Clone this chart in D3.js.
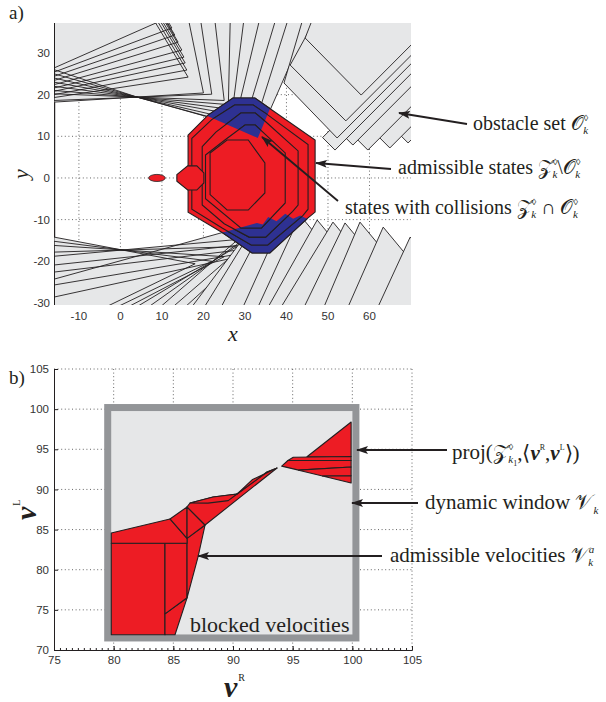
<!DOCTYPE html>
<html>
<head>
<meta charset="utf-8">
<script src="https://cdn.jsdelivr.net/npm/d3@7"></script>
<style>body{margin:0;background:#fff}</style>
</head>
<body>
<script>
// ---------- a) state space (x, y) ----------
const topXTicks = [-10, 0, 10, 20, 30, 40, 50, 60];
const topYTicks = [-30, -20, -10, 0, 10, 20, 30];

// left border wall of the free corridor
const wallLeft = [[[-20, 18.2], [-15.85, 18.2], [-15.85, -14.2], [-20, -14.2]]];

// upper left obstacles: chevrons in the corner
const obstUpperA = [
  [[-16, 26.4], [11.5, 38.5], [10.6, 40], [-16, 40]],
  [[-16, 25.4], [12.4, 36.0], [10.0, 40], [-16, 40]],
  [[-16, 24.4], [13.1, 34.3], [9.7, 40], [-16, 40]],
  [[-16, 23.4], [13.9, 32.6], [9.5, 40], [-16, 40]],
  [[-16, 22.4], [14.8, 30.7], [9.2, 40], [-16, 40]],
  [[-16, 21.6], [15.3, 29.0], [8.7, 40], [-16, 40]],
  [[-16, 20.8], [15.6, 27.6], [8.2, 40], [-16, 40]],
  [[-16, 20.0], [16.0, 25.9], [7.5, 40], [-16, 40]],
  [[-16, 19.3], [16.3, 24.2], [6.8, 40], [-16, 40]]
];
// upper left obstacles: fan converging on the robot
const obstUpperB = [
  [[-16, 26.0], [4, 19.4], [21.6, 14.6], [33.1, 9.6], [46.5, 40], [-16, 40]],
  [[-16, 25.0], [32, 11.6], [41, 40], [-16, 40]],
  [[-16, 24.0], [30, 13.4], [38, 40], [-16, 40]],
  [[-16, 23.0], [28, 15.1], [34, 40], [-16, 40]],
  [[-16, 22.0], [27, 16.4], [30, 40], [-16, 40]],
  [[-16, 21.0], [26, 17.6], [26.5, 40], [-16, 40]],
  [[-16, 20.2], [25, 18.6], [22.5, 40], [-16, 40]],
  [[-16, 18.6], [22, 20.1], [19, 40], [-16, 40]],
  [[-16, 18.2], [20, 20.4], [16, 40], [-16, 40]]
];
// upper right obstacles (drawn in this order)
const obstUpperRight = [
  [[66.3, 11.4], [69.3, 8.4], [109.3, 48.4], [106.3, 51.4]],
  [[61.9, 10.2], [64.9, 7.2], [104.9, 47.2], [101.9, 50.2]],
  [[56.6, 9.7], [59.6, 6.7], [99.6, 46.7], [96.6, 49.7]],
  [[53.0, 10.9], [56.0, 7.9], [96.0, 47.9], [93.0, 50.9]],
  [[48.7, 9.7], [51.7, 6.7], [91.7, 46.7], [88.7, 49.7]],
  [[39.4, 22.8], [52.2, 9.6], [92.2, 49.6], [44.5, 40]],
  [[40.9, 27.1], [54.3, 13.7], [94.3, 53.7], [48, 40]],
  [[44.5, 33.6], [58.0, 19.9], [98.0, 59.9], [47, 40]]
];
// lower left obstacles: fan
const obstLowerFan = [
  [[-16, -14.2], [18, -20.6], [-4.6, -31.5], [-16, -31.5]],
  [[-16, -15.2], [22, -20.0], [-1.9, -31.5], [-16, -31.5]],
  [[-16, -16.2], [25, -18.9], [0.8, -31.5], [-16, -31.5]],
  [[-16, -17.8], [28, -16.5], [3, -31.5], [-16, -31.5]],
  [[-16, -18.8], [30, -14.6], [6, -31.5], [-16, -31.5]],
  [[-16, -24.3], [32.9, -10.8], [9, -31.5], [-16, -31.5]],
  [[-16, -20.9], [30, -16], [12, -31.5], [-16, -31.5]],
  [[-16, -22.6], [31, -17], [15, -31.5], [-16, -31.5]],
  [[-16, -25.7], [33, -17.5], [18, -31.5], [-16, -31.5]],
  [[-16, -28.6], [35, -17.5], [21, -31.5], [-16, -31.5]]
];
// lower right obstacles: saw teeth (drawn left to right)
const obstLowerTeeth = [
  [[16.8, -31.5], [30.0, -14.0], [40.0, -26.0], [30.8, -31.5]],
  [[19.9, -31.5], [32.0, -12.0], [42.0, -24.0], [33.9, -31.5]],
  [[24.0, -31.5], [35.6, -9.4], [45.6, -21.4], [38.0, -31.5]],
  [[29.3, -31.5], [39.7, -8.6], [49.7, -20.6], [43.3, -31.5]],
  [[32.9, -31.5], [43.3, -9.0], [53.3, -21.0], [46.9, -31.5]],
  [[35.3, -31.5], [47.4, -10.1], [57.4, -22.1], [49.3, -31.5]],
  [[38.4, -31.5], [51.2, -10.6], [61.2, -22.6], [52.4, -31.5]],
  [[44.0, -31.5], [54.1, -10.8], [64.1, -22.8], [58.0, -31.5]],
  [[48.8, -31.5], [57.7, -10.6], [67.7, -22.6], [62.8, -31.5]],
  [[54.6, -31.5], [63.3, -11.8], [73.3, -23.8], [68.6, -31.5]],
  [[61.8, -31.5], [69.8, -14.2], [79.8, -26.2], [75.8, -31.5]]
];
// reachable set contours (outer to inner)
const reachContours = [
  [[16.3, 10.3], [21.1, 15.1], [27.1, 19.2], [32.4, 19.2], [36.5, 16.3], [46.9, 9.1], [46.9, -8.2], [45.2, -9.6], [36.0, -18.0], [31.7, -18.0], [24.7, -13.2], [16.3, -8.2]],
  [[17.2, 9.5], [22.0, 14.0], [27.5, 17.5], [32.0, 17.5], [35.0, 15.5], [45.2, 8.0], [45.2, -7.5], [44.0, -9.0], [35.5, -16.1], [31.5, -16.1], [24.5, -12.0], [17.2, -7.5]],
  [[19.7, 7.5], [23.0, 11.0], [29.0, 15.6], [32.5, 15.6], [35.0, 13.5], [42.8, 6.5], [42.8, -6.5], [41.5, -8.0], [35.0, -14.2], [31.0, -14.2], [25.0, -11.0], [19.7, -6.5]],
  [[20.5, 5.5], [25.0, 9.0], [30.0, 12.7], [32.5, 12.7], [39.7, 6.0], [39.7, -6.0], [34.0, -12.0], [29.0, -12.0], [20.5, -5.0]],
  [[21.6, 6.0], [25.7, 9.1], [30.8, 9.1], [34.8, 3.6], [34.8, -3.6], [30.8, -7.7], [25.7, -7.7], [21.6, -4.0]]
];
const firstStep = [[13.6, 0.8], [16.2, 2.9], [18.4, 2.9], [20.1, 1.2], [20.1, -1.2], [18.4, -2.9], [16.2, -2.9], [13.6, -0.8]];
const startState = {x: 8.8, y: 0, rx: 2.0, ry: 0.85};
// collision areas (obstacle hull next to the robot)
const collisionHull = [
  [[-16, 31], [33.1, 9.6], [36.8, 18.5], [43.6, 40], [-16, 40]],
  [[-16, -24.3], [32.9, -10.8], [34.3, -11.2], [35.6, -9.4], [37.6, -10.4], [39.7, -8.6], [41.6, -9.8], [43.3, -9.0], [45.2, -9.9], [47.4, -10.1], [70, -40], [-16, -40]]
];

// ---------- b) velocity space (vR, vL) ----------
const botXTicks = [75, 80, 85, 90, 95, 100, 105];
const botYTicks = [70, 75, 80, 85, 90, 95, 100, 105];
const dynWindow = [[79.5, 71.5], [100.3, 100.2]];
const projPieces = [
  [[79.8, 71.9], [84.3, 71.9], [84.3, 83.3], [79.8, 83.3]],
  [[84.3, 71.9], [85.14, 71.9], [86.15, 76.5], [84.3, 74.5]],
  [[84.3, 74.5], [86.15, 76.5], [86.15, 83.3], [84.3, 83.3]],
  [[86.15, 76.5], [87.07, 81.59], [87.66, 85.57], [86.15, 83.9]],
  [[79.8, 83.3], [86.15, 83.3], [86.15, 83.9], [84.72, 86.32], [79.8, 84.58]],
  [[84.72, 86.32], [86.15, 83.9], [86.15, 87.82]],
  [[86.15, 83.9], [87.66, 85.57], [86.15, 87.82]],
  [[86.15, 87.82], [87.66, 85.57], [93.69, 92.67], [92.85, 92.17], [90.34, 89.43], [88.33, 89.06], [86.4, 88.31]],
  [[86.4, 88.31], [88.33, 89.06], [90.34, 89.43], [89.6, 88.6], [87.9, 88.3]],
  [[90.34, 89.43], [92.85, 92.17], [93.69, 92.67], [91.6, 91.2], [90.6, 89.8]],
  [[96.2, 94.07], [99.9, 98.4], [99.9, 94.1]],
  [[95.05, 94.0], [99.9, 94.1], [99.9, 93.6], [94.6, 93.6]],
  [[94.08, 92.9], [94.6, 93.6], [99.9, 93.6], [99.9, 92.8], [95.5, 92.4]],
  [[95.5, 92.4], [99.9, 92.8], [99.9, 91.7], [97.5, 91.67]],
  [[97.5, 91.67], [99.9, 91.7], [99.9, 90.8]]
];

// ---------- drawing ----------
const INK = "#231f20", GRAY = "#e6e7e8", RED = "#ed1c24", BLUE = "#2e3192";
const SERIF = "'Liberation Serif','Times New Roman',serif";
const SANS = "'Liberation Sans',Arial,sans-serif";
const MATH = "'DejaVu Serif','DejaVu Sans',serif";

const svg = d3.select("body").append("svg").attr("width", 606).attr("height", 702);
const defs = svg.append("defs");

function pathOf(sx, sy) {
  return pts => "M" + pts.map(p => sx(p[0]).toFixed(2) + "," + sy(p[1]).toFixed(2)).join("L") + "Z";
}

const marker = defs.append("marker").attr("id", "head").attr("viewBox", "0 0 12 8")
  .attr("refX", 11).attr("refY", 4).attr("markerWidth", 12).attr("markerHeight", 8)
  .attr("markerUnits", "userSpaceOnUse").attr("orient", "auto");
marker.append("path").attr("d", "M0,0L12,4L0,8L2.5,4Z").attr("fill", INK);

function arrow(g, x1, y1, x2, y2) {
  g.append("line").attr("x1", x1).attr("y1", y1).attr("x2", x2).attr("y2", y2)
    .attr("stroke", INK).attr("stroke-width", 1.8).attr("marker-end", "url(#head)");
}

function richText(g, x, y, size, parts) {
  const t = g.append("text").attr("x", x).attr("y", y).attr("font-family", SERIF)
    .attr("font-size", size).attr("fill", INK);
  parts.forEach(p => {
    const s = t.append("tspan").text(p.t);
    if (p.i) s.attr("font-style", "italic");
    if (p.b) s.attr("font-weight", "bold");
    if (p.ff) s.attr("font-family", p.ff);
    if (p.fs) s.attr("font-size", p.fs);
    if (p.dx) s.attr("dx", p.dx);
    if (p.dy) s.attr("dy", p.dy);
  });
  return t;
}

// ===== panel a =====
const xA = d3.scaleLinear().domain([-16, 70]).range([54, 411]);
const yA = d3.scaleLinear().domain([-30.5, 37.2]).range([305, 23]);
const pA = pathOf(xA, yA);
const gA = svg.append("g");

defs.append("clipPath").attr("id", "clipA").append("rect")
  .attr("x", 54).attr("y", 23).attr("width", 357).attr("height", 282);
const hull = defs.append("clipPath").attr("id", "hullClip");
hull.selectAll("path").data(collisionHull).join("path").attr("d", pA);

// dotted grid
gA.append("g").selectAll("line").data(topXTicks).join("line")
  .attr("x1", d => xA(d)).attr("x2", d => xA(d)).attr("y1", 23).attr("y2", 305)
  .attr("stroke", "#555").attr("stroke-width", 0.9).attr("stroke-dasharray", "1,2.6");
gA.append("g").selectAll("line").data(topYTicks).join("line")
  .attr("y1", d => yA(d)).attr("y2", d => yA(d)).attr("x1", 54).attr("x2", 411)
  .attr("stroke", "#555").attr("stroke-width", 0.9).attr("stroke-dasharray", "1,2.6");

const plotA = gA.append("g").attr("clip-path", "url(#clipA)");

function fillThenStroke(g, polys, p) {
  g.append("g").selectAll("path").data(polys).join("path").attr("d", p).attr("fill", GRAY);
  g.append("g").selectAll("path").data(polys).join("path").attr("d", p)
    .attr("fill", "none").attr("stroke", INK).attr("stroke-width", 0.9).attr("stroke-linejoin", "round");
}
function stacked(g, polys, p, fill, sw) {
  g.append("g").selectAll("path").data(polys).join("path").attr("d", p)
    .attr("fill", fill).attr("stroke", INK).attr("stroke-width", sw).attr("stroke-linejoin", "round");
}

stacked(plotA, wallLeft, pA, GRAY, 1.2);
fillThenStroke(plotA, obstLowerFan, pA);
stacked(plotA, obstLowerTeeth, pA, GRAY, 0.9);
fillThenStroke(plotA, obstUpperB.concat(obstUpperA), pA);
stacked(plotA, obstUpperRight, pA, GRAY, 0.9);

// reachable set: red, collisions blue
reachContours.forEach(c => {
  plotA.append("path").attr("d", pA(c)).attr("fill", RED).attr("stroke", INK).attr("stroke-width", 1.1);
  plotA.append("path").attr("d", pA(c)).attr("fill", BLUE).attr("stroke", INK).attr("stroke-width", 1.1)
    .attr("clip-path", "url(#hullClip)");
});
plotA.append("path").attr("d", pA(firstStep)).attr("fill", RED).attr("stroke", INK).attr("stroke-width", 1.1);
plotA.append("ellipse").attr("cx", xA(startState.x)).attr("cy", yA(startState.y))
  .attr("rx", xA(startState.rx) - xA(0)).attr("ry", yA(0) - yA(startState.ry))
  .attr("fill", RED).attr("stroke", INK).attr("stroke-width", 0.8);

// tick labels
gA.append("g").selectAll("text").data(topYTicks).join("text")
  .attr("x", 50).attr("y", d => yA(d) + 4).attr("text-anchor", "end")
  .attr("font-family", SANS).attr("font-size", 11.5).attr("fill", "#333").text(d => d);
gA.append("g").selectAll("text").data(topXTicks).join("text")
  .attr("x", d => xA(d)).attr("y", 320).attr("text-anchor", "middle")
  .attr("font-family", SANS).attr("font-size", 11.5).attr("fill", "#333").text(d => d);

gA.append("text").attr("x", 233).attr("y", 341).attr("text-anchor", "middle")
  .attr("font-family", SERIF).attr("font-style", "italic").attr("font-size", 22).attr("fill", INK).text("x");
gA.append("text").attr("transform", "translate(28,174) rotate(-90)").attr("text-anchor", "middle")
  .attr("font-family", SERIF).attr("font-style", "italic").attr("font-size", 22).attr("fill", INK).text("y");
gA.append("text").attr("x", 9).attr("y", 19).attr("font-family", SERIF).attr("font-size", 19)
  .attr("fill", INK).text("a)");

// annotations a
arrow(gA, 467, 124, 399, 113);
arrow(gA, 391, 169, 316, 163);
arrow(gA, 338, 201, 262, 137);
richText(gA, 473, 130, 20, [
  {t: "obstacle set "}, {t: "𝒪", ff: MATH}, {t: "◊", fs: 9, dy: -9}, {t: "k", i: 1, fs: 11, dx: -5, dy: 13}
]);
richText(gA, 398, 174, 20, [
  {t: "admissible states "}, {t: "𝒵", ff: MATH}, {t: "◊", fs: 9, dy: -9}, {t: "k", i: 1, fs: 11, dx: -5, dy: 13},
  {t: "\\", dy: -4}, {t: "𝒪", ff: MATH}, {t: "◊", fs: 9, dy: -9}, {t: "k", i: 1, fs: 11, dx: -5, dy: 13}
]);
richText(gA, 345, 214, 20, [
  {t: "states with collisions "}, {t: "𝒵", ff: MATH}, {t: "◊", fs: 9, dy: -9}, {t: "k", i: 1, fs: 11, dx: -5, dy: 13},
  {t: " ∩ ", dy: -4}, {t: "𝒪", ff: MATH}, {t: "◊", fs: 9, dy: -9}, {t: "k", i: 1, fs: 11, dx: -5, dy: 13}
]);

// ===== panel b =====
const xB = d3.scaleLinear().domain([75, 105]).range([54, 412]);
const yB = d3.scaleLinear().domain([70, 105]).range([650, 369]);
const pB = pathOf(xB, yB);
const gB = svg.append("g");

gB.append("g").selectAll("line").data(botXTicks.slice(1)).join("line")
  .attr("x1", d => xB(d)).attr("x2", d => xB(d)).attr("y1", 369).attr("y2", 650)
  .attr("stroke", "#555").attr("stroke-width", 0.9).attr("stroke-dasharray", "1,2.6");
gB.append("g").selectAll("line").data(botYTicks.slice(1)).join("line")
  .attr("y1", d => yB(d)).attr("y2", d => yB(d)).attr("x1", 54).attr("x2", 412)
  .attr("stroke", "#555").attr("stroke-width", 0.9).attr("stroke-dasharray", "1,2.6");

gB.append("rect")
  .attr("x", xB(dynWindow[0][0])).attr("y", yB(dynWindow[1][1]))
  .attr("width", xB(dynWindow[1][0]) - xB(dynWindow[0][0]))
  .attr("height", yB(dynWindow[0][1]) - yB(dynWindow[1][1]))
  .attr("fill", GRAY).attr("stroke", "#939598").attr("stroke-width", 7);

stacked(gB, projPieces, pB, RED, 1.1);

// axes
gB.append("g").attr("transform", "translate(0,650)")
  .call(d3.axisBottom(xB).tickValues(botXTicks).tickSizeInner(-4).tickSizeOuter(0).tickPadding(6));
gB.append("g").attr("transform", "translate(0,650)")
  .call(d3.axisBottom(xB).ticks(60).tickSizeInner(-2).tickSizeOuter(0).tickFormat(""));
gB.append("g").attr("transform", "translate(54,0)")
  .call(d3.axisLeft(yB).tickValues(botYTicks).tickSizeInner(-4).tickSizeOuter(0).tickPadding(5));
gB.selectAll(".domain, .tick line").attr("stroke", INK);
gB.selectAll(".tick text").attr("font-family", SANS).attr("font-size", 11.5).attr("fill", "#333");

gB.append("text").attr("x", 9).attr("y", 384).attr("font-family", SERIF).attr("font-size", 19)
  .attr("fill", INK).text("b)");
richText(gB, 224, 697, 30, [{t: "v", b: 1, i: 1}, {t: "R", fs: 10, dy: -16, dx: 1}]);
richText(gB, 0, 0, 30, [{t: "v", b: 1, i: 1}, {t: "L", fs: 10, dy: -16, dx: 1}])
  .attr("transform", "translate(36,520) rotate(-90)");

// annotations b
arrow(gB, 447, 450, 357, 450);
arrow(gB, 418, 503, 352, 503);
arrow(gB, 382, 556, 198, 556);
richText(gB, 452, 459, 21, [
  {t: "proj("}, {t: "𝒵", ff: MATH}, {t: "◊", fs: 9, dy: -9}, {t: "k", i: 1, fs: 11, dx: -5, dy: 13},
  {t: "1", fs: 8, dy: 3}, {t: ",⟨", dy: -6}, {t: "v", b: 1, i: 1}, {t: "R", fs: 8, dy: -10},
  {t: ",", dy: 10}, {t: "v", b: 1, i: 1}, {t: "L", fs: 8, dy: -10}, {t: "⟩)", dy: 10}
]);
richText(gB, 425, 509, 21, [
  {t: "dynamic window "}, {t: "𝒱", ff: MATH}, {t: "k", i: 1, fs: 11, dy: 5}
]);
richText(gB, 390, 562, 21, [
  {t: "admissible velocities "}, {t: "𝒱", ff: MATH}, {t: "a", i: 1, fs: 11, dy: -9}, {t: "k", i: 1, fs: 11, dx: -6, dy: 13}
]);
gB.append("text").attr("x", 190).attr("y", 632).attr("font-family", SERIF).attr("font-size", 22)
  .attr("fill", INK).text("blocked velocities");
</script>
</body>
</html>
